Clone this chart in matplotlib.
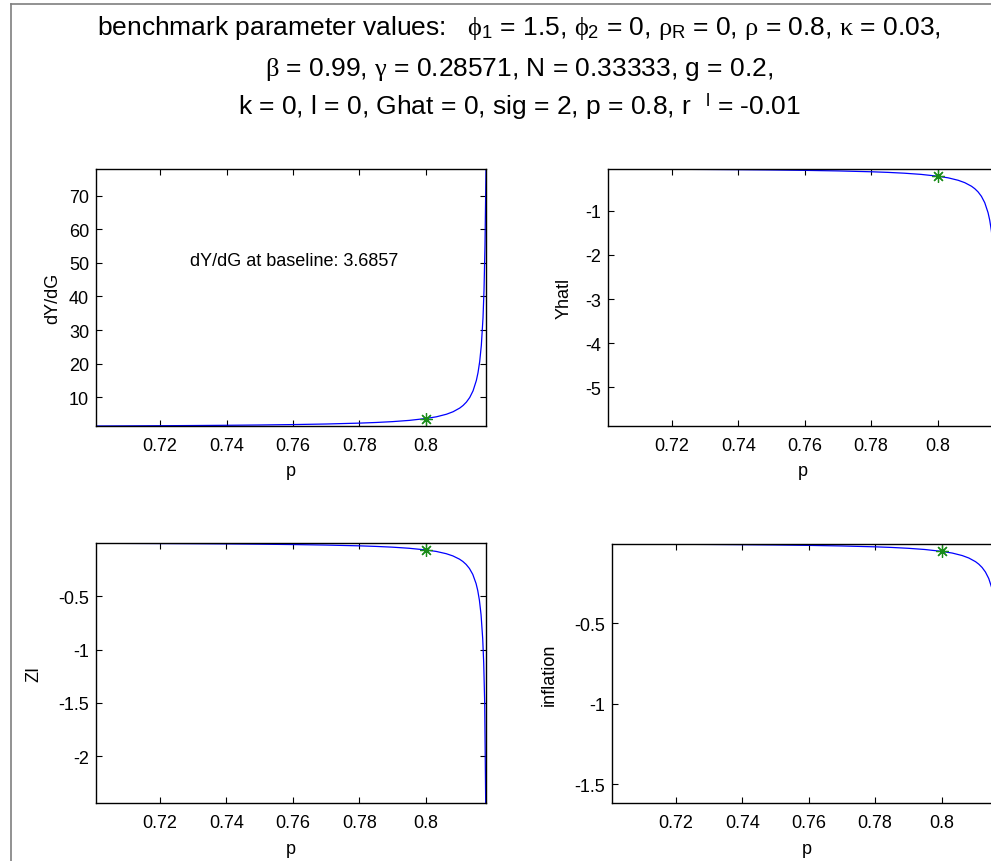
import matplotlib
matplotlib.use("Agg")
import matplotlib.pyplot as plt
from matplotlib.lines import Line2D
from matplotlib.ticker import FuncFormatter

# values
p = [0.7007, 0.710, 0.720, 0.730, 0.740, 0.750, 0.760, 0.770, 0.780, 0.785,
     0.790, 0.795, 0.800, 0.8032, 0.8062, 0.8082, 0.8102, 0.8112, 0.8122,
     0.8132, 0.8142, 0.8152, 0.8157, 0.8162, 0.8167, 0.8172, 0.8175, 0.8178,
     0.8181]
dydg = [1.463, 1.501, 1.546, 1.603, 1.673, 1.764, 1.886, 2.058, 2.320, 2.510,
        2.766, 3.131, 3.6857, 4.205, 4.962, 5.707, 6.803, 7.57, 8.573,
        9.941, 11.92, 15.02, 17.35, 20.61, 25.50, 33.65, 41.80, 55.38, 77.9]
yhatl = [-0.0499, -0.0527, -0.0560, -0.0601, -0.0653, -0.0719, -0.0808,
         -0.0934, -0.1126, -0.1264, -0.1452, -0.1719, -0.2130, -0.2504,
         -0.3058, -0.3603, -0.4404, -0.4965, -0.5699, -0.6699, -0.8144,
         -1.0414, -1.2117, -1.450, -1.808, -2.404, -3.0, -3.993, -5.88]
zl = [-0.0045, -0.0055, -0.0068, -0.0084, -0.0103, -0.0129, -0.0162, -0.0210,
      -0.0283, -0.0336, -0.0407, -0.0509, -0.0665, -0.0807, -0.1018, -0.1225,
      -0.153, -0.1743, -0.2022, -0.2403, -0.2952, -0.3816, -0.4463, -0.537,
      -0.673, -0.8997, -1.1263, -1.504, -2.44]
inflation = [-0.0073, -0.0080, -0.0090, -0.0101, -0.0116, -0.0134, -0.0159,
             -0.0195, -0.0249, -0.0287, -0.0340, -0.0415, -0.0530, -0.0635,
             -0.0790, -0.0943, -0.1168, -0.1325, -0.1531, -0.1812, -0.2217,
             -0.2854, -0.3331, -0.400, -0.500, -0.6675, -0.8346, -1.113,
             -1.618]

p_base = 0.8
base_vals = [3.6857, -0.213, -0.0665, -0.053]
ylabels = ["dY/dG", "Yhatl", "ZI", "inflation"]
xticks = [0.72, 0.74, 0.76, 0.78, 0.8]
yticks = [[10, 20, 30, 40, 50, 60, 70],
          [-5, -4, -3, -2, -1],
          [-2, -1.5, -1, -0.5],
          [-1.5, -1, -0.5]]

title_lines = [
    r"benchmark parameter values:   $\phi_1$ = 1.5, $\phi_2$ = 0, "
    r"$\rho_\mathrm{R}$ = 0, $\rho$ = 0.8, $\kappa$ = 0.03,",
    r"$\beta$ = 0.99, $\gamma$ = 0.28571, N = 0.33333, g = 0.2,",
    r"k = 0, l = 0, Ghat = 0, sig = 2, p = 0.8, r  $^\mathrm{l}$ = -0.01",
]

plt.rcParams["font.family"] = ["Liberation Sans", "DejaVu Sans"]
plt.rcParams["axes.unicode_minus"] = False
plt.rcParams["mathtext.fontset"] = "custom"
plt.rcParams["mathtext.rm"] = "Liberation Sans"
plt.rcParams["mathtext.it"] = "Liberation Serif"
plt.rcParams["mathtext.fallback"] = "stixsans"

W, H = 991, 862
fig = plt.figure(figsize=(W / 100, H / 100), dpi=100)

# axes boxes in pixels: left, top, right, bottom
boxes = [(96, 170, 486, 427),
         (607.7, 170, 997.7, 427),
         (96, 544.3, 485.7, 804.3),
         (611.7, 545, 1001.7, 804.3)]
label_x = [-0.090, -0.091, -0.138, -0.139]


def make_axes(box):
    l, t, r, b = box
    return fig.add_axes([l / W, 1 - b / H, (r - l) / W, (b - t) / H])


series = [dydg, yhatl, zl, inflation]
fmt = FuncFormatter(lambda v, pos: "%g" % v)

for i, ys in enumerate(series):
    ax = make_axes(boxes[i])
    ax.plot(p, ys, color="blue", lw=0.9)
    # matlab style asterisk
    ax.plot([p_base], [base_vals[i]], marker=(8, 2, 0), ls="none",
            color="#1a8c1a", markersize=9, markeredgewidth=0.9)
    ax.set_xlim(p[0], p[-1])
    ax.set_ylim(min(ys), max(ys))
    ax.set_xticks(xticks)
    ax.set_yticks(yticks[i])
    ax.xaxis.set_major_formatter(fmt)
    ax.yaxis.set_major_formatter(fmt)
    ax.tick_params(direction="in", length=4, width=0.8, labelsize=13,
                   top=True, right=True)
    ax.tick_params(axis="x", pad=8)
    ax.tick_params(axis="y", pad=5)
    for s in ax.spines.values():
        s.set_linewidth(1.0)
    ax.set_xlabel("p", fontsize=13)
    ax.set_ylabel(ylabels[i], fontsize=13)
    ax.xaxis.set_label_coords(0.5, -0.142)
    ax.yaxis.set_label_coords(label_x[i], 0.5)
    if i == 0:
        ax.text(0.729, 50.6, "dY/dG at baseline: 3.6857", fontsize=13,
                ha="left", va="center")

# title block
baselines = [35, 76, 115]
for line, yb in zip(title_lines, baselines):
    fig.text(519 / W, 1 - yb / H, line, fontsize=19, ha="center",
             va="baseline")

# grey frame of the original window
gray = "#7f7f7f"
fig.add_artist(Line2D([10.5 / W, 10.5 / W], [0, 1 - 5 / H], color=gray,
                      lw=1.2, transform=fig.transFigure))
fig.add_artist(Line2D([10.5 / W, 1], [1 - 5 / H, 1 - 5 / H], color=gray,
                      lw=1.2, transform=fig.transFigure))

fig.savefig("out.png", dpi=100)
